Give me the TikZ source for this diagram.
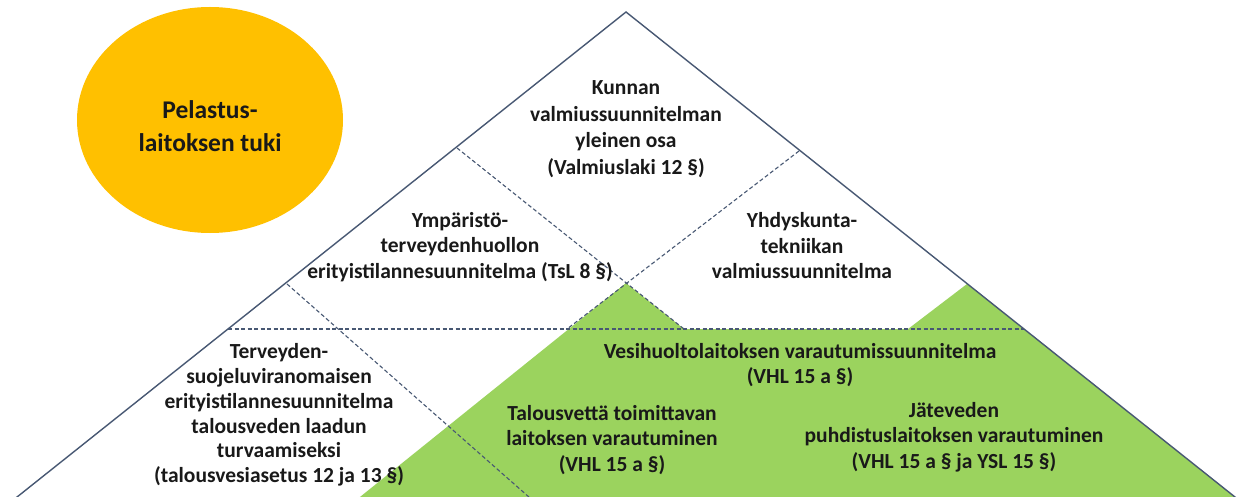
\documentclass[tikz,border=0pt]{standalone}
\usepackage{fontspec}
\setmainfont{Carlito}
\usepackage{tikz}
\usetikzlibrary{shapes.geometric}
\definecolor{edgeblue}{RGB}{72,88,115}
\definecolor{gold}{RGB}{255,192,0}
\definecolor{leaf}{RGB}{155,211,94}
\definecolor{ink}{RGB}{25,25,25}

\begin{document}
\begin{tikzpicture}[x=1pt, y=-1pt,
        edge/.style={draw=edgeblue, line width=1.4pt, line join=miter},
        split/.style={draw=edgeblue, line width=1.1pt, dash pattern=on 4pt off 2.5pt},
        lbl/.style={align=center, text=ink, inner sep=0pt, font=\bfseries\fontsize{21.5}{25.5}\selectfont}]
        \clip (0,0) rectangle (1241,497);
        \fill [white] (0,0) rectangle (1241,497);
        \coordinate (top) at (626,12);
        \coordinate (baseL) at (7,505);
        \coordinate (baseR) at (1245,505);
        \coordinate (cross) at (626,283);
        \coordinate (ympL) at (457,148);
        \coordinate (yhdR) at (799,151);
        \coordinate (terL) at (287,284);
        \coordinate (terB) at (538,505);
        \coordinate (midL) at (228,329);
        \coordinate (midR) at (1024,329);
        \coordinate (ympB) at (684,329);
        \coordinate (yhdB) at (567,329);
        \coordinate (leafL) at (350,505);
        \coordinate (leafM) at (908,329);
        \coordinate (leafR) at (967,284);
        \node [ellipse, fill=gold, minimum width=266pt, minimum height=226pt, inner sep=0pt] (tuki) at (210,120) {};
        \node [lbl, font=\bfseries\fontsize{25.5}{33}\selectfont] (tukitxt) at (210,126) {Pelastus-\\laitoksen tuki};
        \fill [leaf] (leafL) -- (cross) -- (ympB) -- (leafM) -- (leafR) -- (baseR) -- cycle;
        \draw [split] (ympL) -- (ympB);
        \draw [split] (yhdR) -- (yhdB);
        \draw [split] (midL) -- (midR);
        \draw [split] (terL) -- (terB);
        \draw [edge] (baseL) -- (top) -- (baseR);
        \node [lbl, font=\bfseries\fontsize{21.5}{26.5}\selectfont] (kunnan) at (626,129) {Kunnan\\valmiussuunnitelman\\yleinen osa\\(Valmiuslaki 12 §)};
        \node [lbl] (ymparisto) at (460,247) {Ympäristö-\\terveydenhuollon\\erityistilannesuunnitelma (TsL 8 §)};
        \node [lbl] (yhdyskunta) at (802,246) {Yhdyskunta-\\tekniikan\\valmiussuunnitelma};
        \node [lbl, font=\bfseries\fontsize{21.5}{24.8}\selectfont] (terveys) at (279,415) {Terveyden-\\suojeluviranomaisen\\erityistilannesuunnitelma\\talousveden laadun\\turvaamiseksi\\(talousvesiasetus 12 ja 13 §)};
        \node [lbl] (vesihuolto) at (800,365) {Vesihuoltolaitoksen varautumissuunnitelma\\(VHL 15 a §)};
        \node [lbl] (talousvesi) at (612,440) {Talousvettä toimittavan\\laitoksen varautuminen\\(VHL 15 a §)};
        \node [lbl] (jatevesi) at (954,437) {Jäteveden\\puhdistuslaitoksen varautuminen\\(VHL 15 a § ja YSL 15 §)};
\end{tikzpicture}
\end{document}
